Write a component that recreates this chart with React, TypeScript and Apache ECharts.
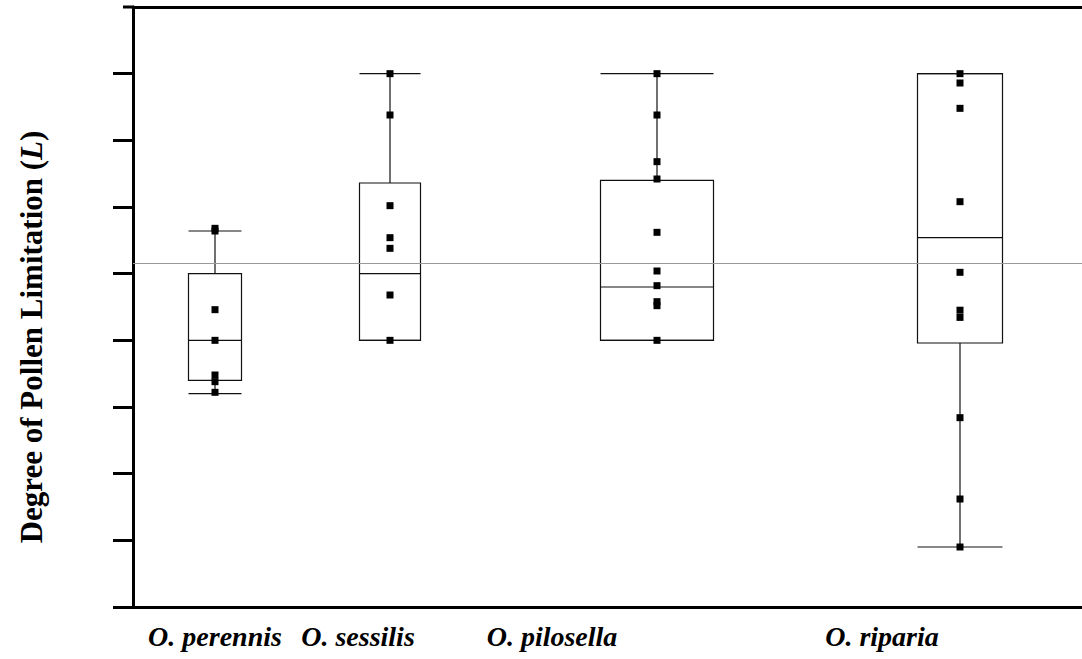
import React, { useEffect, useRef } from "react";
import * as echarts from "echarts";

// Species on the x axis
const species = ["O. perennis", "O. sessilis", "O. pilosella", "O. riparia"];

// Individual pollen limitation values (L) per species
const perennisL = [0.42, 0.41, 0.115, 0.0, -0.13, -0.155, -0.195];
const sessilisL = [1.0, 0.845, 0.505, 0.385, 0.345, 0.17, 0.0];
const pilosellaL = [1.0, 0.845, 0.67, 0.605, 0.405, 0.26, 0.205, 0.145, 0.13, 0.0];
const ripariaL = [1.0, 0.965, 0.87, 0.52, 0.255, 0.113, 0.086, -0.29, -0.595, -0.775];

// Box summary statistics per species
const boxMin = [-0.2, 0.0, 0.0, -0.775];
const boxQ1 = [-0.15, 0.0, 0.0, -0.01];
const boxMedian = [0.0, 0.25, 0.2, 0.385];
const boxQ3 = [0.25, 0.59, 0.6, 1.0];
const boxMax = [0.41, 1.0, 1.0, 1.0];

// Grand mean drawn as a reference line
const overallMean = 0.29;

// Y axis ticks
const yTicks = [-1, -0.75, -0.5, -0.25, 0, 0.25, 0.5, 0.75, 1];

// Layout along the x axis (pixels from the left axis)
const boxCentre = [82, 257, 524, 827];
const boxWidth = [53, 61, 113, 85];
const labelCentre = [82, 225, 419, 749];
const X_MAX = 949;

const SERIF = "'Liberation Serif', 'Times New Roman', serif";

export default function App() {
  const ref = useRef<HTMLDivElement>(null);

  useEffect(() => {
    if (!ref.current) return;
    const chart = echarts.init(ref.current, undefined, { renderer: "svg" });

    const groups = [perennisL, sessilisL, pilosellaL, ripariaL];
    const points: number[][] = [];
    groups.forEach((vals, i) => vals.forEach((v) => points.push([boxCentre[i], v])));

    const boxData = species.map((_, i) => [
      boxCentre[i],
      boxMin[i],
      boxQ1[i],
      boxMedian[i],
      boxQ3[i],
      boxMax[i],
    ]);

    const lineStyle = { stroke: "#111", lineWidth: 1.2, fill: "none" };

    chart.setOption({
      animation: false,
      backgroundColor: "#ffffff",
      grid: { left: 133, right: 0, top: 7, bottom: 52, containLabel: false },
      xAxis: [
        {
          type: "value",
          min: 0,
          max: X_MAX,
          position: "bottom",
          axisLine: { show: true, onZero: false, lineStyle: { color: "#000", width: 3 } },
          axisTick: { show: false },
          splitLine: { show: false },
          axisLabel: {
            show: true,
            customValues: labelCentre,
            formatter: (v: number) => {
              const idx = labelCentre.indexOf(v);
              return idx >= 0 ? species[idx] : "";
            },
            color: "#000",
            fontFamily: SERIF,
            fontSize: 28,
            fontWeight: "bold",
            fontStyle: "italic",
            margin: 15,
          },
        },
        {
          type: "value",
          min: 0,
          max: X_MAX,
          position: "top",
          axisLine: { show: true, onZero: false, lineStyle: { color: "#000", width: 3 } },
          axisTick: { show: false },
          axisLabel: { show: false },
          splitLine: { show: false },
        },
      ],
      yAxis: {
        type: "value",
        min: -1,
        max: 1.25,
        interval: 0.25,
        axisLine: { show: true, onZero: false, lineStyle: { color: "#000", width: 3 } },
        axisTick: {
          show: true,
          customValues: yTicks,
          length: 20,
          lineStyle: { color: "#000", width: 3 },
        },
        axisLabel: { show: false },
        splitLine: { show: false },
      },
      graphic: [
        {
          type: "line",
          shape: { x1: 123, y1: 7, x2: 134, y2: 7 },
          style: { stroke: "#000", lineWidth: 3 },
        },
        {
          type: "text",
          x: 31,
          y: 337,
          rotation: Math.PI / 2,
          style: {
            text: "Degree of Pollen Limitation ({i|L})",
            font: `bold 31px ${SERIF}`,
            fill: "#000",
            align: "center",
            verticalAlign: "middle",
            rich: {
              i: {
                fontStyle: "italic",
                fontWeight: "bold",
                fontSize: 31,
                fontFamily: SERIF,
              },
            },
          },
        },
      ],
      series: [
        {
          type: "custom",
          xAxisIndex: 0,
          encode: { x: 0, y: [1, 2, 3, 4, 5] },
          data: boxData,
          z: 2,
          renderItem: (params: any, api: any) => {
            const i = params.dataIndex;
            const x = api.value(0);
            const half = boxWidth[i] / 2;
            const pMin = api.coord([x, api.value(1)]);
            const pQ1 = api.coord([x, api.value(2)]);
            const pMed = api.coord([x, api.value(3)]);
            const pQ3 = api.coord([x, api.value(4)]);
            const pMax = api.coord([x, api.value(5)]);
            const cx = pMed[0];
            const hline = (y: number) => ({
              type: "line",
              shape: { x1: cx - half, y1: y, x2: cx + half, y2: y },
              style: lineStyle,
            });
            return {
              type: "group",
              children: [
                {
                  type: "rect",
                  shape: { x: cx - half, y: pQ3[1], width: half * 2, height: pQ1[1] - pQ3[1] },
                  style: lineStyle,
                },
                hline(pMed[1]),
                {
                  type: "line",
                  shape: { x1: cx, y1: pMax[1], x2: cx, y2: pQ3[1] },
                  style: lineStyle,
                },
                {
                  type: "line",
                  shape: { x1: cx, y1: pQ1[1], x2: cx, y2: pMin[1] },
                  style: lineStyle,
                },
                hline(pMax[1]),
                hline(pMin[1]),
              ],
            };
          },
        },
        {
          type: "scatter",
          xAxisIndex: 0,
          data: points,
          symbol: "rect",
          symbolSize: 7,
          itemStyle: { color: "#000", opacity: 1 },
          z: 3,
          markLine: {
            silent: true,
            symbol: "none",
            label: { show: false },
            lineStyle: { color: "#999", width: 1, type: "solid" },
            data: [{ yAxis: overallMean }],
          },
        },
      ],
    });

    return () => chart.dispose();
  }, []);

  return (
    <div
      ref={ref}
      style={{ position: "fixed", left: 0, top: 0, width: 1082, height: 659, background: "#fff" }}
    />
  );
}
